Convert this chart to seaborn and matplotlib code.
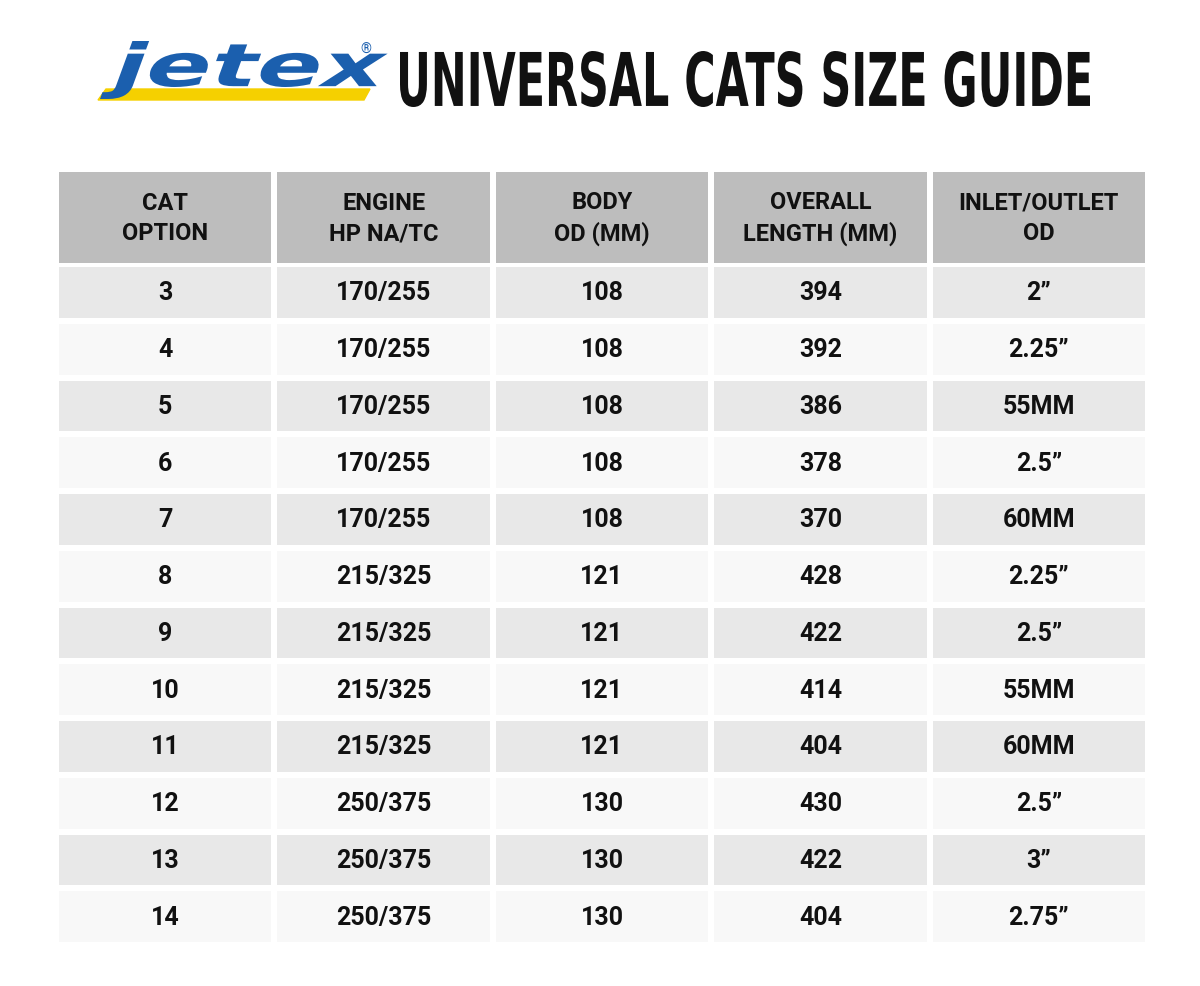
import numpy as np
import pandas as pd
import matplotlib
matplotlib.use("Agg")
import matplotlib.pyplot as plt
import seaborn as sns
from matplotlib.textpath import TextPath
from matplotlib.font_manager import FontProperties
from matplotlib.patches import PathPatch, Polygon
from matplotlib.transforms import Affine2D

headers = ["CAT\nOPTION", "ENGINE\nHP NA/TC", "BODY\nOD (MM)", "OVERALL\nLENGTH (MM)", "INLET/OUTLET\nOD"]
cat_option = ["3", "4", "5", "6", "7", "8", "9", "10", "11", "12", "13", "14"]
engine_hp = ["170/255"] * 5 + ["215/325"] * 4 + ["250/375"] * 3
body_od = [108] * 5 + [121] * 4 + [130] * 3
overall_length = [394, 392, 386, 378, 370, 428, 422, 414, 404, 430, 422, 404]
inlet_outlet = ["2\u201d", "2.25\u201d", "55MM", "2.5\u201d", "60MM", "2.25\u201d", "2.5\u201d", "55MM", "60MM", "2.5\u201d", "3\u201d", "2.75\u201d"]

sns.set_theme(style="white")
plt.rcParams['font.family'] = ['Roboto', 'DejaVu Sans']

W, H = 1200, 987
fig = plt.figure(figsize=(12, 9.87), dpi=100)
fig.patch.set_facecolor("white")

def ax_px(x0, y0, x1, y1):
    return fig.add_axes([x0 / W, 1 - y1 / H, (x1 - x0) / W, (y1 - y0) / H])

# header
axh = ax_px(56, 170, 1148, 267)
hdr = pd.DataFrame([[0] * 5])
sns.heatmap(hdr, ax=axh, cmap=matplotlib.colors.ListedColormap(["#bdbdbd"]), cbar=False,
            annot=np.array([headers]), fmt="", linewidths=4, linecolor="white",
            annot_kws=dict(color="#111111", fontsize=17, fontweight="bold", linespacing=1.4))
axh.set_axis_off()

# body
axb = ax_px(56, 265, 1148, 946)
shade = np.array([[i % 2] * 5 for i in range(len(cat_option))])
labels = np.array([[c, e, str(b), str(o), io] for c, e, b, o, io in
                   zip(cat_option, engine_hp, body_od, overall_length, inlet_outlet)])
sns.heatmap(pd.DataFrame(shade), ax=axb, cmap=matplotlib.colors.ListedColormap(["#e8e8e8", "#f8f8f8"]),
            cbar=False, vmin=0, vmax=1, annot=labels, fmt="", linewidths=4, linecolor="white",
            annot_kws=dict(color="#111111", fontsize=18, fontweight="bold"))
axb.set_axis_off()

# overlay axes in pixel coords for title/logo
axo = fig.add_axes([0, 0, 1, 1], zorder=-1)
axo.set_xlim(0, W); axo.set_ylim(H, 0); axo.set_axis_off()

def fit_text(s, x0, y0, x1, y1, color, weight="bold", style="normal", family="DejaVu Sans", shear=0.0):
    tp = TextPath((0, 0), s, size=100, prop=FontProperties(family=family, weight=weight, style=style))
    bb = tp.get_extents()
    sx = (x1 - x0) / bb.width
    sy = (y1 - y0) / bb.height
    tr = (Affine2D().translate(-bb.x0, -bb.y0).scale(sx, -sy)
          + Affine2D().skew(shear, 0) + Affine2D().translate(x0, y1))
    p = tr.transform_path(tp)
    axo.add_patch(PathPatch(p, facecolor=color, edgecolor="none"))

fit_text("UNIVERSAL CATS SIZE GUIDE", 400, 52, 1090, 108, "#111111")
# logo
axo.add_patch(Polygon([[106, 90], [370, 90], [364, 101], [98, 101]], closed=True, color="#f5d000"))
fit_text("jetex", 100, 42, 372, 100, "#1b5fae", weight="heavy", family="DejaVu Sans", shear=-0.35)
axo.text(360, 50, "\u00ae", fontsize=10, color="#1b5fae", va="center")

fig.savefig("out.png", dpi=100, facecolor="white")
